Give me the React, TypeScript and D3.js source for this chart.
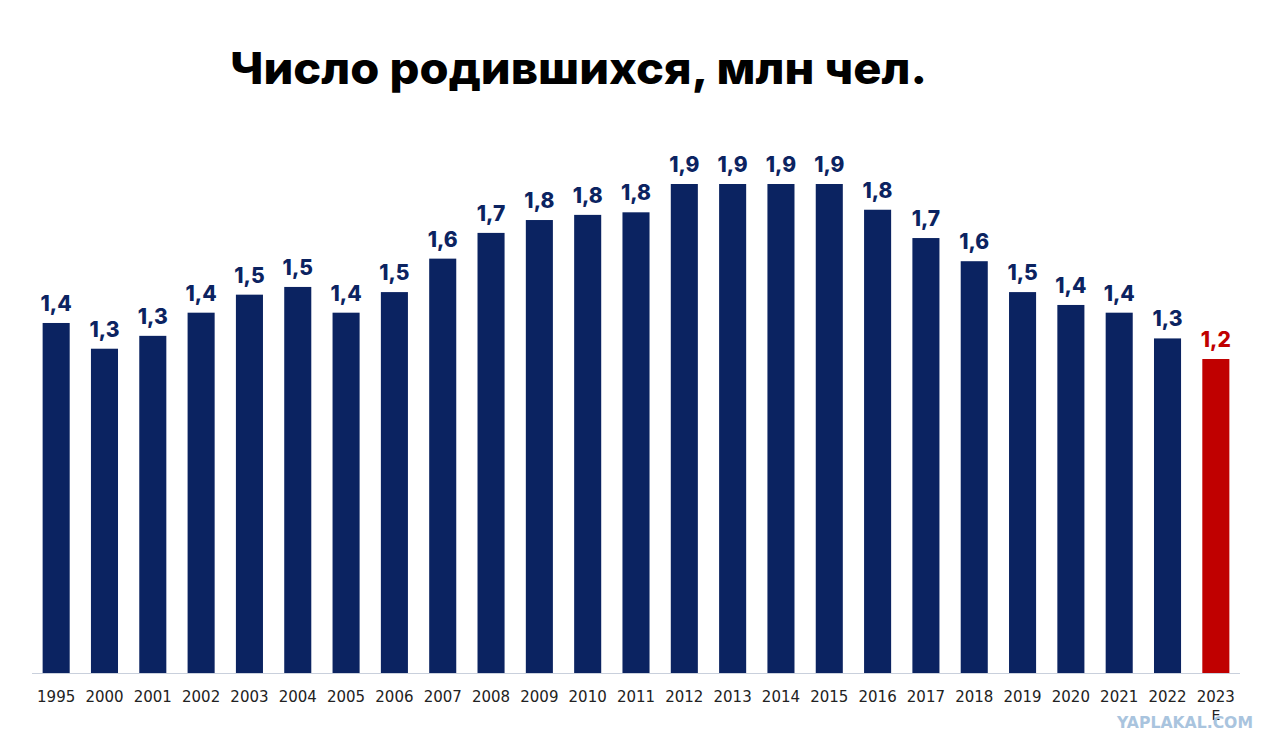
import { useEffect, useRef } from 'react';
import * as d3 from 'd3';

const years = ['1995', '2000', '2001', '2002', '2003', '2004', '2005', '2006', '2007', '2008', '2009', '2010', '2011', '2012', '2013', '2014', '2015', '2016', '2017', '2018', '2019', '2020', '2021', '2022', '2023'];
const births = [1.36, 1.26, 1.31, 1.40, 1.47, 1.50, 1.40, 1.48, 1.61, 1.71, 1.76, 1.78, 1.79, 1.90, 1.90, 1.90, 1.90, 1.80, 1.69, 1.60, 1.48, 1.43, 1.40, 1.30, 1.22];
const estimateYear = '2023';

const W = 1280;
const H = 752;

export default function App() {
  const svgRef = useRef<SVGSVGElement>(null);

  useEffect(() => {
    if (!svgRef.current) return;
    const svg = d3.select(svgRef.current);
    svg.selectAll('*').remove();

    const data = years.map((year, i) => ({ year, value: births[i] }));

    const x = d3.scaleBand()
      .domain(years)
      .range([32, 1240])
      .paddingInner(0.44)
      .paddingOuter(0.22);

    const y = d3.scaleLinear()
      .domain([0, 1.9])
      .range([673, 184]);

    svg.append('rect')
      .attr('width', W)
      .attr('height', H)
      .attr('fill', '#ffffff');

    // title
    svg.append('text')
      .attr('x', 230)
      .attr('y', 84)
      .attr('font-family', 'Inter, "Noto Sans", sans-serif')
      .attr('font-size', '44px')
      .attr('font-weight', 800)
      .attr('fill', '#000000')
      .attr('textLength', 697)
      .attr('lengthAdjust', 'spacingAndGlyphs')
      .text('Число родившихся, млн чел.');

    // baseline
    svg.append('line')
      .attr('x1', 32)
      .attr('x2', 1240)
      .attr('y1', y(0) + 0.5)
      .attr('y2', y(0) + 0.5)
      .attr('stroke', '#c9d0dc')
      .attr('stroke-width', 1);

    const isEst = (d: { year: string }) => d.year === estimateYear;

    svg.append('g')
      .selectAll('rect')
      .data(data)
      .enter()
      .append('rect')
      .attr('x', d => x(d.year)!)
      .attr('y', d => y(d.value))
      .attr('width', x.bandwidth())
      .attr('height', d => y(0) - y(d.value))
      .attr('fill', d => isEst(d) ? '#c00000' : '#0b2361');

    svg.append('g')
      .selectAll('text')
      .data(data)
      .enter()
      .append('text')
      .attr('x', d => x(d.year)! + x.bandwidth() / 2)
      .attr('y', d => y(d.value) - 12)
      .attr('text-anchor', 'middle')
      .attr('font-family', 'Inter, "Noto Sans", sans-serif')
      .attr('font-size', '21px')
      .attr('font-weight', 800)
      .attr('fill', d => isEst(d) ? '#c00000' : '#0b2361')
      .text(d => d.value.toFixed(1).replace('.', ','));

    // x axis labels
    svg.append('g')
      .selectAll('text')
      .data(years)
      .enter()
      .append('text')
      .attr('x', d => x(d)! + x.bandwidth() / 2)
      .attr('y', 702)
      .attr('text-anchor', 'middle')
      .attr('font-family', '"DejaVu Sans", sans-serif')
      .attr('font-size', '15px')
      .attr('fill', '#222222')
      .text(d => d);

    svg.append('text')
      .attr('x', x(estimateYear)! + x.bandwidth() / 2)
      .attr('y', 720)
      .attr('text-anchor', 'middle')
      .attr('font-family', '"DejaVu Sans", sans-serif')
      .attr('font-size', '14px')
      .attr('fill', '#222222')
      .text('E');

    // watermark
    svg.append('text')
      .attr('x', 1117)
      .attr('y', 728)
      .attr('font-family', '"DejaVu Sans", sans-serif')
      .attr('font-size', '15px')
      .attr('font-weight', 'bold')
      .attr('fill', '#a9c4de')
      .attr('textLength', 136)
      .attr('lengthAdjust', 'spacingAndGlyphs')
      .text('YAPLAKAL.COM');
  }, []);

  return (
    <svg
      ref={svgRef}
      width={W}
      height={H}
      style={{ position: 'absolute', left: 0, top: 0, display: 'block' }}
    />
  );
}
